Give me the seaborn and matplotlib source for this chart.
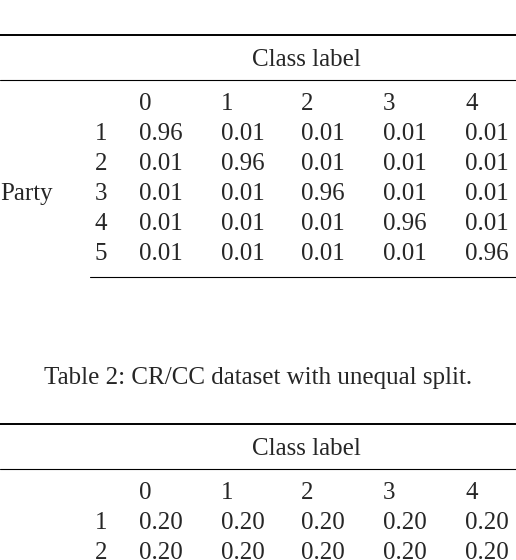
import numpy as np
import seaborn as sns
import matplotlib.pyplot as plt

sns.set_theme(style="white")
plt.rcParams['font.family'] = ['Liberation Serif', 'DejaVu Serif']

# table values
class_labels = ['0', '1', '2', '3', '4']
parties = ['1', '2', '3', '4', '5']
split_equal_diag = [
    [0.96, 0.01, 0.01, 0.01, 0.01],
    [0.01, 0.96, 0.01, 0.01, 0.01],
    [0.01, 0.01, 0.96, 0.01, 0.01],
    [0.01, 0.01, 0.01, 0.96, 0.01],
    [0.01, 0.01, 0.01, 0.01, 0.96],
]
split_uniform = [
    [0.20, 0.20, 0.20, 0.20, 0.20],
    [0.20, 0.20, 0.20, 0.20, 0.20],
]
caption2 = 'Table 2: CR/CC dataset with unequal split.'

fig = plt.figure(figsize=(5.16, 5.6), dpi=100)
ax = fig.add_axes([0, 0, 1, 1])
ax.set_xlim(0, 516)
ax.set_ylim(560, 0)
ax.axis('off')

fs = 18
col_x = [139, 221, 301, 383, 465]


def draw_table(top, data, show_party):
    ax.plot([0, 516], [top, top], color='black', lw=1.4)
    ax.text(306, top + 25, 'Class label', ha='center', va='center', fontsize=fs)
    ax.plot([0, 516], [top + 45, top + 45], color='black', lw=0.8)
    hy = top + 69
    for x, c in zip(col_x, class_labels):
        ax.text(x, hy, c, ha='left', va='center', fontsize=fs)
    for i, row in enumerate(data):
        y = hy + 30 * (i + 1)
        ax.text(107, y, parties[i], ha='right', va='center', fontsize=fs)
        for x, v in zip(col_x, row):
            ax.text(x, y, f'{v:.2f}', ha='left', va='center', fontsize=fs)
    if show_party:
        ax.text(0, hy + 30 * 3, 'Party', ha='left', va='center', fontsize=fs)
        yb = top + 242
        ax.plot([90, 516], [yb, yb], color='black', lw=0.8)


draw_table(35, split_equal_diag, True)
ax.text(258, 378, caption2, ha='center', va='center', fontsize=fs)
draw_table(424, split_uniform, False)

fig.savefig('out.png', dpi=100)
